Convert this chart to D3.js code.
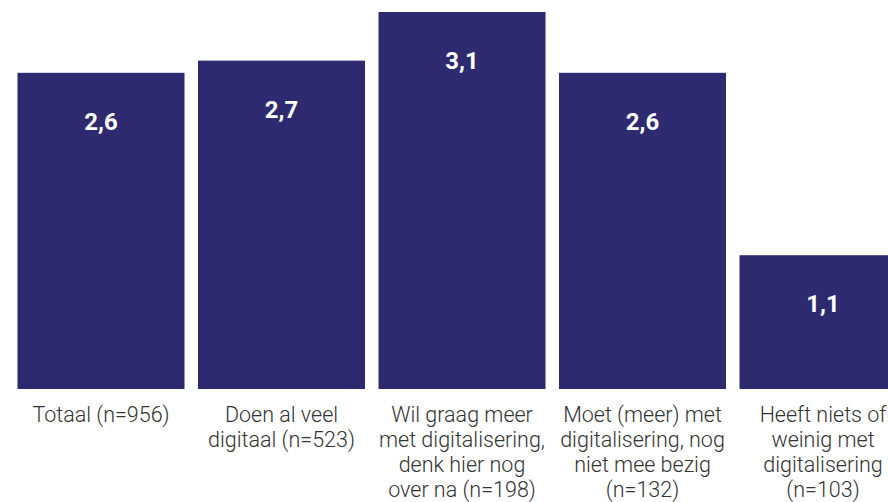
<!DOCTYPE html>
<html>
<head>
<meta charset="utf-8">
<script src="https://cdn.jsdelivr.net/npm/d3@7"></script>
<style>
  html, body { margin: 0; padding: 0; background: #fff; overflow: hidden; }
  svg { display: block; }
</style>
</head>
<body>
<svg id="chart" width="888" height="502"></svg>
<script>
// Categories (each split into its wrapped display lines) and their mean scores
const categories = [
  "Totaal (n=956)",
  "Doen al veel digitaal (n=523)",
  "Wil graag meer met digitalisering, denk hier nog over na (n=198)",
  "Moet (meer) met digitalisering, nog niet mee bezig (n=132)",
  "Heeft niets of weinig met digitalisering (n=103)"
];
const categoryLines = [
  ["Totaal (n=956)"],
  ["Doen al veel", "digitaal (n=523)"],
  ["Wil graag meer", "met digitalisering,", "denk hier nog", "over na (n=198)"],
  ["Moet (meer) met", "digitalisering, nog", "niet mee bezig", "(n=132)"],
  ["Heeft niets of", "weinig met", "digitalisering", "(n=103)"]
];
const values = [2.6, 2.7, 3.1, 2.6, 1.1];

const svg = d3.select("#chart");
const baseline = 389;

const x = d3.scaleBand()
  .domain(categories)
  .range([10.75, 913.25])
  .paddingInner(0.0748)
  .paddingOuter(0.0374);

const y = d3.scaleLinear()
  .domain([0, 3.1])
  .range([baseline, 12]);

const nl = d3.formatLocale({ decimal: ",", thousands: ".", grouping: [3], currency: ["€", ""] });
const fmt = nl.format(".1f");

const barColor = "#2e2a6f";

// Bars
svg.append("g").selectAll("rect")
  .data(values)
  .join("rect")
  .attr("x", (d, i) => x(categories[i]))
  .attr("y", d => y(d))
  .attr("width", x.bandwidth())
  .attr("height", d => baseline - y(d))
  .attr("fill", barColor);

// Value labels inside the bars
svg.append("g").selectAll("text")
  .data(values)
  .join("text")
  .attr("x", (d, i) => x(categories[i]) + x.bandwidth() / 2)
  .attr("y", d => y(d) + 57)
  .attr("text-anchor", "middle")
  .attr("fill", "#ffffff")
  .attr("font-family", "Roboto, sans-serif")
  .attr("font-weight", 700)
  .attr("font-size", 24)
  .text(d => fmt(d));

// Category axis labels
const xAxis = d3.axisBottom(x).tickSize(0).tickPadding(0).tickFormat(() => "");
const axisG = svg.append("g")
  .attr("transform", `translate(0,${baseline})`)
  .call(xAxis);
axisG.select(".domain").remove();

axisG.selectAll(".tick text")
  .attr("font-family", "'Roboto Light', Roboto, sans-serif")
  .attr("font-weight", 300)
  .attr("font-size", 21.5)
  .attr("fill", "#333333")
  .attr("dy", null)
  .attr("y", 33)
  .each(function(d, i) {
    const t = d3.select(this);
    categoryLines[i].forEach((line, k) => {
      t.append("tspan")
        .attr("x", 0)
        .attr("y", 33 + k * 25)
        .text(line);
    });
  });
</script>
</body>
</html>
